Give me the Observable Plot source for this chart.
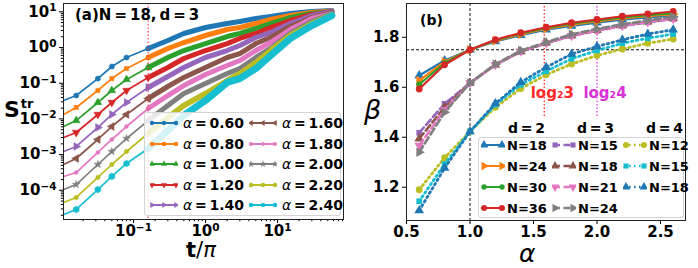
<!DOCTYPE html>
<html><head><meta charset="utf-8">
<script src="https://cdn.jsdelivr.net/npm/d3@7"></script>
<script src="https://cdn.jsdelivr.net/npm/@observablehq/plot@0.6"></script>
<style>
body{margin:0;background:#fff;}
#wrap{position:relative;width:698px;height:268px;overflow:hidden;font-family:"DejaVu Sans",sans-serif;font-weight:bold;color:#000;}
.panel{position:absolute;top:0;}
.lbl{position:absolute;white-space:nowrap;line-height:1;}
.legend{position:absolute;background:rgba(255,255,255,0.82);border:1px solid #d4d4d4;border-radius:3px;box-sizing:border-box;}
.row{position:absolute;display:flex;align-items:center;white-space:nowrap;}
.row svg{display:block;}
</style></head><body><div id="wrap"></div>
<script>
// ---------- Panel (a) data: S^tr vs t/pi, N=18, d=3 ----------
const tGrid = [0.0107, 0.016, 0.032, 0.05, 0.08, 0.16, 0.3, 0.5, 1, 2, 3, 5, 8, 15, 30, 57];
const alphaNames = ["0.60","0.80","1.00","1.20","1.40","1.60","1.80","2.00","2.20","2.40"];
const S_a060 = [0.0328, 0.0452, 0.135, 0.294, 0.525, 0.938, 1.57, 2.47, 3.63, 4.70, 5.35, 6.49, 7.39, 8.96, 10.2, 10.9];
const S_a080 = [0.0133, 0.0209, 0.0625, 0.135, 0.258, 0.525, 0.938, 1.38, 2.17, 3.19, 3.63, 4.70, 6.09, 7.88, 9.55, 10.5];
const S_a100 = [0.00612, 0.0090, 0.0288, 0.0625, 0.127, 0.275, 0.525, 0.824, 1.29, 2.03, 2.47, 3.41, 4.70, 6.92, 8.96, 10.2];
const S_a120 = [0.00301, 0.00416, 0.0133, 0.0288, 0.0625, 0.145, 0.275, 0.492, 0.824, 1.29, 1.79, 2.47, 3.63, 5.71, 8.40, 10.2];
const S_a140 = [0.00122, 0.00169, 0.00574, 0.0133, 0.0288, 0.0758, 0.154, 0.275, 0.525, 0.824, 1.14, 1.91, 2.63, 4.70, 7.88, 10.2];
const S_a160 = [0.000528, 0.000778, 0.00265, 0.00612, 0.0133, 0.0373, 0.0809, 0.145, 0.275, 0.525, 0.679, 1.29, 1.91, 3.87, 6.92, 9.55];
const S_a180 = [0.000244, 0.000315, 0.00115, 0.00265, 0.00612, 0.0196, 0.0452, 0.0862, 0.175, 0.313, 0.432, 0.824, 1.38, 3.19, 6.49, 8.96];
const S_a200 = [0.000105, 0.000145, 0.000528, 0.00122, 0.00282, 0.0090, 0.0237, 0.0514, 0.0981, 0.187, 0.258, 0.525, 0.938, 2.47, 5.35, 8.96];
const S_a220 = [0.0000455, 0.0000629, 0.000229, 0.000528, 0.00122, 0.00390, 0.0109, 0.0237, 0.0514, 0.119, 0.187, 0.380, 0.824, 2.17, 4.70, 8.40];
const S_a240 = [0.0000210, 0.0000290, 0.000105, 0.000244, 0.000564, 0.00148, 0.00473, 0.0125, 0.0328, 0.105, 0.135, 0.258, 0.597, 1.79, 4.13, 7.88];
const tMarker = [0.16];
const xTicksA = [0.1, 1, 10];
const yTicksA = [1e-4, 1e-3, 1e-2, 1e-1, 1, 10];

// ---------- Panel (b) data: beta vs alpha ----------
const alphaB = [0.6, 0.8, 1.0, 1.2, 1.4, 1.6, 1.8, 2.0, 2.2, 2.4, 2.6];
const b_d2_N18 = [1.647, 1.707, 1.75, 1.783, 1.808, 1.830, 1.845, 1.858, 1.870, 1.879, 1.886];
const b_d2_N24 = [1.627, 1.702, 1.75, 1.786, 1.812, 1.834, 1.850, 1.863, 1.875, 1.884, 1.892];
const b_d2_N30 = [1.611, 1.697, 1.75, 1.788, 1.815, 1.837, 1.854, 1.867, 1.879, 1.888, 1.896];
const b_d2_N36 = [1.593, 1.690, 1.75, 1.790, 1.818, 1.840, 1.858, 1.871, 1.884, 1.893, 1.903];
const b_d3_N15 = [1.418, 1.534, 1.617, 1.690, 1.742, 1.776, 1.805, 1.826, 1.845, 1.860, 1.873];
const b_d3_N18 = [1.394, 1.520, 1.617, 1.690, 1.743, 1.778, 1.807, 1.828, 1.847, 1.862, 1.875];
const b_d3_N21 = [1.367, 1.510, 1.617, 1.690, 1.744, 1.777, 1.806, 1.827, 1.846, 1.861, 1.874];
const b_d3_N24 = [1.340, 1.500, 1.617, 1.692, 1.747, 1.780, 1.812, 1.833, 1.852, 1.867, 1.882];
const b_d4_N12 = [1.190, 1.318, 1.423, 1.520, 1.595, 1.650, 1.693, 1.727, 1.753, 1.776, 1.793];
const b_d4_N15 = [1.144, 1.293, 1.423, 1.530, 1.610, 1.664, 1.714, 1.747, 1.776, 1.796, 1.813];
const b_d4_N18 = [1.107, 1.277, 1.423, 1.535, 1.620, 1.680, 1.733, 1.763, 1.790, 1.813, 1.830];
const refBeta = [1.75];
const refAlpha = [1.0];
const logLines = [{v: 1.585, label: "log\u20823"}, {v: 2.0, label: "log\u20824"}];
const xTicksB = [0.5, 1.0, 1.5, 2.0, 2.5];
const yTicksB = [1.2, 1.4, 1.6, 1.8];

// ---------- styles ----------
const tab = ["#1f77b4","#ff7f0e","#2ca02c","#d62728","#9467bd","#8c564b","#e377c2","#7f7f7f","#bcbd22","#17becf"];
const symA = ["circle","square","triangle","triangle","triangle","triangle","circle","star","circle","hexagon"];
const rotA = [0,0,0,180,90,-90,0,0,0,0];
const rA = [2.6,2.4,2.9,2.9,2.9,2.9,1.9,2.4,2.2,2.9];
const bandA = [5,5,5,5,5,5,5,5,5.5,7];

const seriesA = [S_a060,S_a080,S_a100,S_a120,S_a140,S_a160,S_a180,S_a200,S_a220,S_a240];
const rowsA = [];
seriesA.forEach((arr, i) => arr.forEach((s, j) => rowsA.push({t: tGrid[j], S: s, a: alphaNames[i], i})));

const fmtPow = d => "10^" + String(Math.round(Math.log10(d))).replace("-", "\u2212");
const minor = (lo, hi) => { const out = []; for (let k = -6; k <= 3; k++) for (let m = 2; m <= 9; m++) { const v = m * 10 ** k; if (v > lo && v < hi) out.push(v);} return out; };

const xDomA = [0.01066, 82.6], yDomA = [1.52e-5, 17.1];
const marksA = [];
alphaNames.forEach((a, i) => {
  const rows = rowsA.filter(d => d.i === i);
  marksA.push(Plot.line(rows, {x: "t", y: "S", stroke: tab[i], strokeWidth: 1.7}));
  marksA.push(Plot.line(rows.filter(d => d.t >= 0.16), {x: "t", y: "S", stroke: tab[i], strokeWidth: bandA[i], strokeLinejoin: "round", strokeLinecap: "round"}));
  marksA.push(Plot.dot(rows.filter(d => d.t > 0.012 && d.t < 0.17), {x: "t", y: "S", fill: tab[i], stroke: tab[i], strokeWidth: 0.5, symbol: symA[i], r: rA[i], rotate: rotA[i]}));
});

const chartA = Plot.plot({
  width: 350, height: 268, marginLeft: 63, marginRight: 7, marginTop: 3, marginBottom: 49,
  style: {fontFamily: "DejaVu Sans", fontWeight: "bold", fontSize: "15px", color: "#000", background: "transparent", overflow: "visible"},
  x: {type: "log", domain: xDomA, label: null},
  y: {type: "log", domain: yDomA, label: null},
  marks: [
    ...marksA,
    Plot.ruleX(tMarker, {stroke: "#f03a4a", strokeOpacity: 0.85, strokeDasharray: "1.5,2", strokeWidth: 1.3}),
    Plot.axisX({ticks: xTicksA, tickFormat: fmtPow, tickSize: 4, tickPadding: 2, label: null}),
    Plot.axisX({ticks: minor(xDomA[0], xDomA[1]), tickFormat: () => "", tickSize: 2.2, label: null}),
    Plot.axisY({ticks: yTicksA, tickFormat: fmtPow, tickSize: 4, tickPadding: 3, label: null}),
    Plot.axisY({ticks: minor(yDomA[0], yDomA[1]), tickFormat: () => "", tickSize: 2.2, label: null}),
    Plot.frame({stroke: "#222", strokeWidth: 1})
  ]
});
// turn "10^k" tick labels into real superscripts
d3.select(chartA).selectAll("text").each(function () {
  const s = this.textContent;
  const m = /^10\^(.+)$/.exec(s);
  if (m) {
    const el = d3.select(this);
    el.text("10");
    el.append("tspan").attr("dy", "-0.5em").attr("font-size", "10.5px").text(m[1]);
  }
});

// ---------- Panel (b) ----------
const keysB = ["d2N18","d2N24","d2N30","d2N36","d3N15","d3N18","d3N21","d3N24","d4N12","d4N15","d4N18"];
const labelsB = ["N=18","N=24","N=30","N=36","N=15","N=18","N=21","N=24","N=12","N=15","N=18"];
const groupB = [2,2,2,2,3,3,3,3,4,4,4];
const valsB = [b_d2_N18,b_d2_N24,b_d2_N30,b_d2_N36,b_d3_N15,b_d3_N18,b_d3_N21,b_d3_N24,b_d4_N12,b_d4_N15,b_d4_N18];
const colB = ["#1f77b4","#ff7f0e","#2ca02c","#d62728","#9467bd","#8c564b","#e377c2","#7f7f7f","#bcbd22","#17becf","#1f77b4"];
const symB = ["triangle","triangle","circle","circle","square","triangle","triangle","triangle","circle","square","triangle"];
const rotB = [0,90,0,0,0,0,180,90,0,0,0];
const rB = [3.6,3.6,3.0,3.4,3.2,3.6,3.6,3.6,3.4,3.2,3.6];
const dashB = {2: null, 3: "7,3.5", 4: "1.6,3.4"};
const widthB = {2: 2.2, 3: 2.6, 4: 2.8};

const rowsB = [];
valsB.forEach((arr, i) => arr.forEach((b, j) => rowsB.push({alpha: alphaB[j], beta: b, i})));

const marksB = [];
keysB.forEach((k, i) => {
  const rows = rowsB.filter(d => d.i === i);
  const g = groupB[i];
  marksB.push(Plot.line(rows, {x: "alpha", y: "beta", stroke: colB[i], strokeWidth: widthB[g], strokeDasharray: dashB[g] || undefined}));
  marksB.push(Plot.dot(rows, {x: "alpha", y: "beta", fill: colB[i], symbol: symB[i], r: rB[i], rotate: rotB[i]}));
});

const xDomB = [0.5, 2.697], yDomB = [1.067, 1.935];
const chartB = Plot.plot({
  width: 348, height: 268, marginLeft: 56, marginRight: 13, marginTop: 3, marginBottom: 48,
  style: {fontFamily: "DejaVu Sans", fontWeight: "bold", fontSize: "15px", color: "#000", background: "transparent", overflow: "visible"},
  x: {domain: xDomB, label: null},
  y: {domain: yDomB, label: null},
  marks: [
    Plot.ruleY(refBeta, {stroke: "#111", strokeWidth: 1, strokeDasharray: "3,2"}),
    Plot.ruleX(refAlpha, {stroke: "#111", strokeWidth: 1, strokeDasharray: "3,2"}),
    Plot.ruleX(logLines.slice(0,1), {x: "v", y1: 1.483, y2: yDomB[1], stroke: "#ff2a2a", strokeWidth: 1.3, strokeDasharray: "1.5,2"}),
    Plot.ruleX(logLines.slice(1), {x: "v", y1: 1.483, y2: yDomB[1], stroke: "#e23ee2", strokeWidth: 1.3, strokeDasharray: "1.5,2"}),
    ...marksB,
    Plot.text(logLines, {x: "v", y: 1.575, dx: 8, text: "label", fill: (d, i) => i === 0 ? "#ff2a2a" : "#d633d6", fontSize: 15, fontWeight: "bold"}),
    Plot.axisX({ticks: xTicksB, tickFormat: d3.format(".1f"), tickSize: 4, tickPadding: 2, label: null}),
    Plot.axisY({ticks: yTicksB, tickFormat: d3.format(".1f"), tickSize: 4, tickPadding: 3, label: null}),
    Plot.frame({stroke: "#222", strokeWidth: 1})
  ]
});

// ---------- assemble ----------
const wrap = document.getElementById("wrap");
const pa = document.createElement("div"); pa.className = "panel"; pa.style.left = "0px"; pa.appendChild(chartA); wrap.appendChild(pa);
const pb = document.createElement("div"); pb.className = "panel"; pb.style.left = "350px"; pb.appendChild(chartB); wrap.appendChild(pb);

function addLabel(html, css) {
  const d = document.createElement("div"); d.className = "lbl"; d.innerHTML = html;
  Object.assign(d.style, css); wrap.appendChild(d); return d;
}
addLabel('S<span style="font-size:13px;position:relative;top:-9px;margin-left:1px">tr</span>', {left: "4px", top: "99px", fontSize: "22px"});
addLabel('t<span style="font-weight:normal">/</span><i style="font-family:\'DejaVu Sans\';font-weight:normal">π</i>', {left: "186px", top: "240px", fontSize: "21px"});
addLabel('<i style="font-weight:normal">β</i>', {left: "364px", top: "96px", fontSize: "27px"});
addLabel('<i style="font-weight:normal">α</i>', {left: "519px", top: "241px", fontSize: "25px"});
addLabel('(a)N\u2009=\u200918,\u2009d\u2009=\u20093', {left: "75px", top: "8px", fontSize: "15px"});
addLabel('(b)', {left: "420px", top: "13px", fontSize: "14px"});

function swatch(color, symbol, r, rot, dash, w, n, width) {
  const h = 14, W = width;
  const sym = {circle: d3.symbolCircle, square: d3.symbolSquare, triangle: d3.symbolTriangle, star: d3.symbolStar, hexagon: d3.symbolCircle}[symbol];
  const path = d3.symbol(sym, r * r * Math.PI)();
  const xs = n === 3 ? [2, W / 2, W - 2] : [3, W - 3];
  let s = `<svg width="${W}" height="${h}"><line x1="1" x2="${W - 1}" y1="${h / 2}" y2="${h / 2}" stroke="${color}" stroke-width="${w}" ${dash ? `stroke-dasharray="${dash}"` : ""}/>`;
  xs.forEach(x => s += `<path d="${path}" fill="${color}" transform="translate(${x},${h / 2}) rotate(${rot})"/>`);
  return s + "</svg>";
}

// legend (a)
const legA = document.createElement("div"); legA.className = "legend";
Object.assign(legA.style, {left: "144px", top: "112px", width: "197px", height: "104px"});
wrap.appendChild(legA);
alphaNames.forEach((a, i) => {
  const col = Math.floor(i / 5), row = i % 5;
  const r = document.createElement("div"); r.className = "row";
  Object.assign(r.style, {left: (col ? 104 : 5) + "px", top: (3 + row * 20.5) + "px", fontSize: "14px", height: "14px"});
  r.innerHTML = swatch(tab[i], symA[i], Math.min(rA[i], 2.2), rotA[i], null, 2, 3, 28) +
    `<span style="margin-left:5px"><i style="font-weight:normal">α</i>\u2009=\u2009${a}</span>`;
  legA.appendChild(r);
});

// legend (b)
["d\u2009=\u20092","d\u2009=\u20093","d\u2009=\u20094"].forEach((t, k) => {
  addLabel(t, {left: [508, 577, 646][k] + "px", top: "121px", fontSize: "14px"});
});
const legB = document.createElement("div"); legB.className = "legend";
Object.assign(legB.style, {left: "478px", top: "137px", width: "206px", height: "81px"});
wrap.appendChild(legB);
const posB = [[0,0],[0,1],[0,2],[0,3],[1,0],[1,1],[1,2],[1,3],[2,0],[2,1],[2,2]];
keysB.forEach((k, i) => {
  const [c, rw] = posB[i];
  const r = document.createElement("div"); r.className = "row";
  Object.assign(r.style, {left: [2, 73, 144][c] + "px", top: (0 + rw * 21) + "px", fontSize: "13px", height: "14px"});
  r.innerHTML = swatch(colB[i], symB[i], rB[i] * 0.9, rotB[i], dashB[groupB[i]], widthB[groupB[i]] * 0.9, 2, 24) +
    `<span style="margin-left:2px">${labelsB[i]}</span>`;
  legB.appendChild(r);
});
</script></body></html>
